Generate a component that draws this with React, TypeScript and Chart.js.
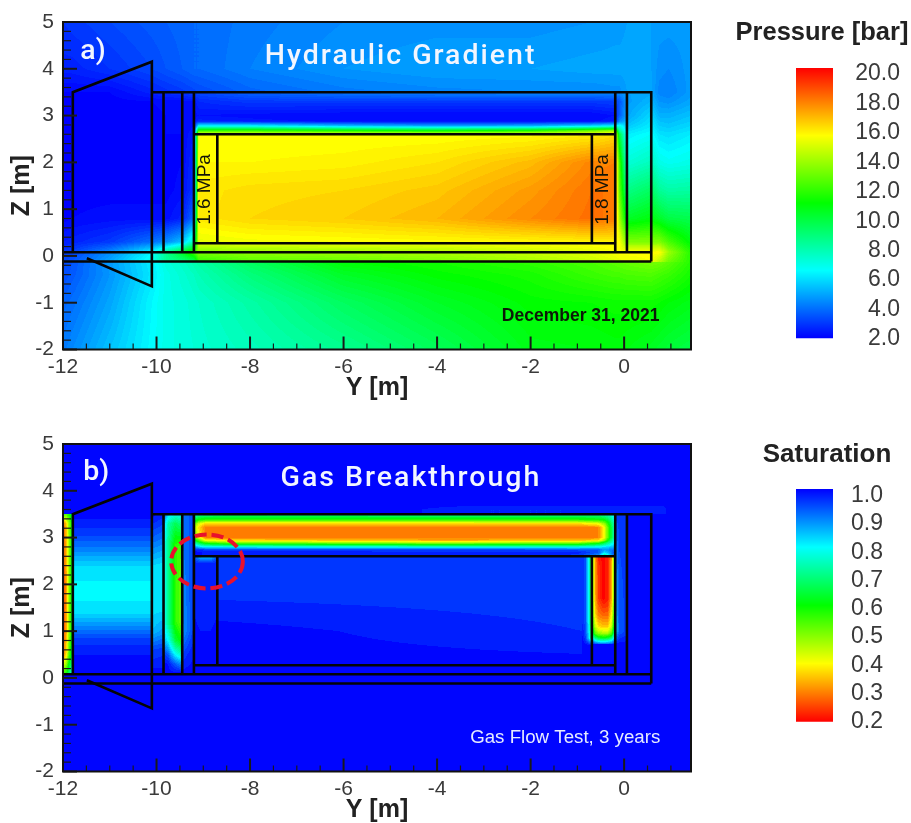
import React, { useEffect, useRef } from "react";
import { Chart, registerables } from "chart.js";

Chart.register(...registerables);

// ---- axes ----
const yMajorTicks = [-12, -10, -8, -6, -4, -2, 0];
const zMajorTicks = [-2, -1, 0, 1, 2, 3, 4, 5];
const pressureTicks = [2, 4, 6, 8, 10, 12, 14, 16, 18, 20];
const saturationTicks = [0.2, 0.3, 0.4, 0.5, 0.6, 0.7, 0.8, 0.9, 1.0];
const pressureRange = [2.0, 20.4];
const saturationRange = [0.2, 1.024];
const rainbow = [
  [255, 0, 0],
  [255, 255, 0],
  [0, 255, 0],
  [0, 255, 255],
  [0, 0, 255],
];

// ---- structure outline (Y, Z in metres) ----
const outlineSegments = [
  [[-11.79, 0.08], [-11.79, 3.5], [-10.1, 4.15], [-10.1, -0.65], [-11.49, -0.05]],
  [[-10.1, 3.5], [0.58, 3.5], [0.58, -0.12]],
  [[-12, 0.08], [0.58, 0.08]],
  [[-12, -0.12], [0.58, -0.12]],
  [[-9.85, 3.5], [-9.85, 0.08]],
  [[-9.45, 3.5], [-9.45, 0.08]],
  [[-9.2, 3.5], [-9.2, 0.08]],
  [[-0.19, 3.5], [-0.19, 0.08]],
  [[0.06, 3.5], [0.06, 0.08]],
  [[-9.2, 2.6], [-0.19, 2.6]],
  [[-9.2, 0.27], [-0.19, 0.27]],
  [[-8.7, 2.6], [-8.7, 0.27]],
  [[-0.69, 2.6], [-0.69, 0.27]],
];

// ---- pressure field, panel a ----
const pressureY = [-12, -11.8, -11, -10.1, -9.8, -9.45, -9.2, -9.1, -8, -6, -4, -2, -0.7, -0.2, -0.1, 0.06, 0.58, 0.75, 0.95, 1.43];
const pressureZ = [5, 4, 3.5, 3.3, 3, 2.88, 2.78, 2.68, 2.6, 2, 1.4, 0.8, 0.3, 0.08, -0.12, -0.14, -0.4, -1, -2];
const pressureValues = [
  [2.9, 3.0, 3.3, 3.6, 3.7, 3.8, 3.9, 3.9, 4.2, 4.5, 4.6, 4.6, 4.7, 4.8, 4.8, 4.9, 4.9, 4.8, 4.8, 4.8],
  [2.6, 2.6, 2.9, 3.3, 3.5, 3.7, 3.9, 3.9, 4.3, 4.7, 4.9, 4.9, 5.0, 5.0, 5.0, 5.0, 4.9, 4.6, 4.5, 4.8],
  [2.1, 2.1, 2.1, 2.6, 2.8, 3.0, 3.2, 3.3, 3.8, 4.2, 4.4, 4.5, 4.5, 4.6, 4.6, 4.9, 5.0, 4.4, 4.3, 4.8],
  [2, 2, 2, 2.1, 2.2, 2.2, 2.3, 2.7, 3.0, 3.0, 3.0, 3.0, 3.0, 3.1, 3.5, 4.8, 5.3, 4.7, 4.6, 5.0],
  [2, 2, 2, 2, 2.1, 2.1, 2.2, 2.3, 2.2, 2.1, 2.1, 2.1, 2.1, 2.3, 3.7, 5.0, 5.9, 5.2, 5.2, 5.5],
  [2, 2, 2, 2, 2.1, 2.1, 2.2, 2.6, 2.4, 2.2, 2.2, 2.2, 2.2, 2.5, 4.5, 5.3, 6.1, 5.5, 5.4, 5.7],
  [2, 2, 2, 2, 2.1, 2.1, 2.3, 6.5, 6.5, 5.5, 5.0, 5.2, 6.0, 6.5, 7.0, 5.6, 6.3, 5.7, 5.6, 5.9],
  [2, 2, 2, 2, 2.1, 2.1, 2.4, 12, 12, 11.5, 11, 11.5, 13, 13.8, 8.5, 6.0, 6.5, 5.9, 5.8, 6.1],
  [2, 2, 2, 2, 2.1, 2.1, 2.5, 15.7, 15.7, 15.7, 15.7, 15.8, 16, 16.4, 10, 6.3, 6.7, 6.1, 6.0, 6.3],
  [2, 2, 2, 2, 2, 2.1, 2.8, 15.9, 15.9, 16, 16.3, 17, 18, 18.1, 12.4, 7.3, 7.8, 7.0, 6.8, 7.0],
  [2, 2, 2, 2, 2, 2.2, 3.0, 16.2, 16.4, 16.5, 16.8, 17.6, 18.3, 18.3, 13, 8.8, 9.5, 8.5, 8.2, 8.3],
  [2, 2.1, 2.2, 2.2, 2.2, 2.6, 4.0, 16.2, 16.5, 16.7, 17.1, 17.9, 18.4, 18.2, 14.2, 10.5, 11, 10.5, 10, 9.8],
  [2.5, 2.6, 3, 4, 4.5, 5.5, 8, 15.4, 15.6, 15.7, 15.8, 15.9, 16, 16, 15.8, 13.5, 13.5, 13.5, 12.5, 11],
  [3.0, 3.2, 4.5, 6.5, 8.5, 10.5, 12.5, 13.5, 13.8, 14, 14.3, 14.8, 15.3, 15.7, 15.8, 15.8, 15.8, 15.9, 14, 11.8],
  [3.2, 3.5, 5, 7, 8.5, 9, 9.5, 12, 12.8, 13, 13.5, 14.2, 14.8, 15.2, 15.4, 15.5, 15.7, 14.5, 13.2, 11.8],
  [3.2, 3.5, 4.8, 6.3, 7.2, 7.6, 8, 8.2, 9.5, 11.1, 11.5, 12, 12.5, 12.8, 12.9, 13, 13.3, 13.2, 12.8, 11.8],
  [3.3, 3.6, 4.7, 6.2, 7, 7.4, 7.7, 7.9, 9, 10.5, 11.2, 11.6, 12.2, 12.4, 12.4, 12.5, 12.6, 12.4, 12.2, 11.5],
  [3.8, 4, 5, 6.5, 7, 7.2, 7.4, 7.5, 8.2, 9.5, 10.5, 11.2, 11.3, 11.4, 11.4, 11.4, 11.4, 11.3, 11.1, 10.8],
  [4.2, 4.5, 5.5, 6.6, 7, 7.2, 7.3, 7.4, 7.8, 8.6, 9.6, 10.8, 10.9, 11, 11, 10.9, 10.6, 10.4, 10.2, 9.9],
];

// ---- saturation field, panel b: local tables over a fully saturated background ----
const saturationBackground = 1.02;
const leftEdge = {
  ys: [-12, -11.93, -11.87, -11.79],
  zs: [3.5, 3.3, 2, 1, 0.5, 0.1],
  values: [
    [0.55, 0.55, 0.6, 0.7],
    [0.27, 0.36, 0.5, 0.65],
    [0.24, 0.33, 0.5, 0.64],
    [0.25, 0.33, 0.5, 0.66],
    [0.29, 0.38, 0.55, 0.7],
    [0.55, 0.6, 0.7, 0.8],
  ],
};
const nozzle = {
  ys: [-11.79, -10.1],
  zs: [3.5, 3.1, 2.8, 2.4, 1.9, 1.4, 1.1, 0.8, 0.5, 0.1],
  values: [
    [1.02, 1.02],
    [0.98, 0.98],
    [0.93, 0.93],
    [0.85, 0.85],
    [0.82, 0.82],
    [0.84, 0.84],
    [0.91, 0.91],
    [0.98, 0.98],
    [1.01, 1.01],
    [1.02, 1.02],
  ],
};
const stripOne = {
  ys: [-10.1, -9.85],
  zs: [3.5, 3, 2.4, 1.5, 1, 0.6, 0.1],
  values: [[1.02, 1.0], [0.95, 0.93], [0.85, 0.84], [0.84, 0.84], [0.87, 0.9], [0.97, 0.98], [1.02, 1.02]],
};
const stripTwo = {
  ys: [-9.85, -9.75, -9.6, -9.45],
  zs: [3.5, 3.3, 2.8, 2, 1.2, 0.8, 0.5, 0.3, 0.1],
  values: [
    [0.96, 0.85, 0.8, 0.82],
    [0.88, 0.75, 0.68, 0.72],
    [0.82, 0.72, 0.58, 0.55],
    [0.82, 0.72, 0.58, 0.52],
    [0.82, 0.72, 0.58, 0.52],
    [0.88, 0.82, 0.66, 0.6],
    [0.98, 0.95, 0.82, 0.76],
    [1.02, 1.01, 0.95, 0.9],
    [1.02, 1.02, 1.02, 1.02],
  ],
};
const stripThree = {
  ys: [-9.45, -9.35, -9.2],
  zs: [3.5, 1, 0.5, 0.1],
  values: [[0.94, 0.94, 0.98], [0.9, 0.93, 0.98], [0.97, 0.99, 1.01], [1.02, 1.02, 1.02]],
};
const topBand = {
  ys: [-9.2, -9.1, -8.95, -8.5, -4, -1, -0.55, -0.42, -0.3, -0.19],
  zs: [3.5, 3.38, 3.3, 3.22, 3.0, 2.94, 2.88, 2.8, 2.74, 2.68, 2.6],
  values: [
    [0.8, 0.76, 0.74, 0.72, 0.74, 0.74, 0.74, 0.76, 0.78, 0.86],
    [0.68, 0.6, 0.58, 0.58, 0.58, 0.58, 0.6, 0.62, 0.7, 0.82],
    [0.56, 0.44, 0.37, 0.37, 0.37, 0.38, 0.42, 0.5, 0.65, 0.8],
    [0.5, 0.38, 0.3, 0.3, 0.3, 0.3, 0.31, 0.42, 0.62, 0.8],
    [0.54, 0.42, 0.31, 0.3, 0.3, 0.3, 0.31, 0.42, 0.62, 0.8],
    [0.66, 0.55, 0.42, 0.38, 0.34, 0.35, 0.38, 0.5, 0.68, 0.82],
    [0.78, 0.68, 0.6, 0.55, 0.5, 0.52, 0.6, 0.68, 0.76, 0.85],
    [0.92, 0.86, 0.82, 0.82, 0.8, 0.8, 0.82, 0.84, 0.86, 0.9],
    [1.0, 0.99, 0.98, 0.98, 0.97, 0.96, 0.95, 0.9, 0.92, 0.95],
    [1.02, 1.02, 1, 1, 1, 1, 0.95, 0.84, 0.9, 0.98],
    [1.02, 1.02, 1, 1, 1, 0.98, 0.9, 0.7, 0.85, 0.98],
  ],
};
const innerHaze = {
  ys: [-8.7, -0.9],
  zs: [2.6, 2, 1, 0.27],
  values: [[0.975, 0.975], [0.975, 0.975], [1.02, 0.99], [1.02, 1.02]],
};
const leftCell = {
  ys: [-9.2, -9.05, -8.85, -8.7],
  zs: [2.6, 2.53, 2.45, 0.27],
  values: [[0.95, 0.84, 0.84, 0.95], [0.98, 0.92, 0.92, 0.98], [1, 0.99, 0.99, 1], [1.02, 1.02, 1.02, 1.02]],
};
const columnFringe = {
  ys: [-0.9, -0.83, -0.76, -0.69],
  zs: [2.6, 1.2, 0.85, 0.7],
  values: [[0.98, 0.96, 0.82, 0.6], [0.99, 0.96, 0.82, 0.6], [1.02, 0.98, 0.86, 0.7], [1.02, 1.02, 1.02, 1.0]],
};
const gasColumn = {
  ys: [-0.69, -0.62, -0.55, -0.45, -0.35, -0.27, -0.19],
  zs: [2.6, 2.4, 1.7, 1.35, 1.1, 0.95, 0.85, 0.72],
  values: [
    [0.55, 0.32, 0.22, 0.2, 0.22, 0.32, 0.6],
    [0.55, 0.34, 0.24, 0.2, 0.22, 0.34, 0.62],
    [0.55, 0.34, 0.25, 0.2, 0.22, 0.34, 0.62],
    [0.58, 0.38, 0.3, 0.28, 0.28, 0.4, 0.65],
    [0.62, 0.45, 0.38, 0.36, 0.36, 0.45, 0.7],
    [0.72, 0.55, 0.5, 0.48, 0.48, 0.55, 0.8],
    [0.85, 0.72, 0.66, 0.64, 0.66, 0.72, 0.9],
    [1.0, 0.98, 0.96, 0.95, 0.96, 0.98, 1.02],
  ],
};
const rightFringe = {
  ys: [-0.19, -0.1, 0.06],
  zs: [3.5, 2.7, 1, 0.72],
  values: [[0.98, 0.98, 0.98], [0.9, 0.97, 0.98], [0.85, 0.95, 0.98], [1.02, 1.02, 1.02]],
};
const topGlow = {
  ys: [-5, -3, 0.8, 0.95],
  zs: [3.72, 3.6, 3.5],
  values: [[1.02, 1.02, 1.02, 1.02], [1.02, 0.99, 0.99, 1.02], [1.02, 0.99, 0.99, 1.02]],
};

// ---- annotations ----
const panelAText = [
  { text: "a)", y: -11.36, z: 4.36, font: "500 28.5px Roboto", color: "#f2f6ff", spacing: 0 },
  { text: "Hydraulic Gradient", y: -4.78, z: 4.25, font: "500 28.5px Roboto", color: "#f2f6ff", spacing: 2 },
  { text: "December 31, 2021", y: -0.93, z: -1.29, font: "bold 17.5px 'Liberation Sans'", color: "#0c1a08", spacing: 0 },
  { text: "1.6 MPa", y: -8.96, z: 1.42, font: "19px 'Liberation Sans'", color: "#141408", spacing: 0, rotate: true },
  { text: "1.8 MPa", y: -0.45, z: 1.42, font: "19px 'Liberation Sans'", color: "#141408", spacing: 0, rotate: true },
];
const panelBText = [
  { text: "b)", y: -11.29, z: 4.38, font: "500 28.5px Roboto", color: "#f2f6ff", spacing: 0 },
  { text: "Gas Breakthrough", y: -4.56, z: 4.25, font: "500 28.5px Roboto", color: "#f2f6ff", spacing: 2 },
  { text: "Gas Flow Test, 3 years", y: -1.26, z: -1.28, font: "18.7px 'Liberation Sans'", color: "#e6ecff", spacing: 0 },
];
const breakthroughMark = { y: -8.92, z: 2.49, ry: 0.766, rz: 0.577 };

const FONT = "'Liberation Sans'";
const TEXT = "#3a3a3a";

function sample(p: any, y: number, z: number) {
  const { ys, zs, values } = p;
  if (y < ys[0] || y > ys[ys.length - 1] || z > zs[0] || z < zs[zs.length - 1]) return null;
  let i = 0;
  while (i < ys.length - 2 && y > ys[i + 1]) i++;
  let j = 0;
  while (j < zs.length - 2 && z < zs[j + 1]) j++;
  const ty = (y - ys[i]) / (ys[i + 1] - ys[i]);
  const tz = (zs[j] - z) / (zs[j] - zs[j + 1]);
  const a = values[j][i] * (1 - ty) + values[j][i + 1] * ty;
  const b = values[j + 1][i] * (1 - ty) + values[j + 1][i + 1] * ty;
  return a * (1 - tz) + b * tz;
}

function colourFor(v: number, range: number[], reversed: boolean) {
  let t = (v - range[0]) / (range[1] - range[0]);
  t = Math.max(0, Math.min(1, t));
  if (!reversed) t = 1 - t;
  const s = t * 4;
  const k = Math.min(3, Math.floor(s));
  const f = s - k;
  return [0, 1, 2].map((c) => rainbow[k][c] * (1 - f) + rainbow[k + 1][c] * f);
}

const panelPlugin = {
  id: "panel",
  beforeDatasetsDraw(chart: any, _a: any, opts: any) {
    const { left, right, top, bottom } = chart.chartArea;
    const x = chart.scales.x;
    const y = chart.scales.y;
    const w = Math.round(right - left);
    const h = Math.round(bottom - top);
    const img = chart.ctx.createImageData(w, h);
    for (let py = 0; py < h; py++) {
      const z = y.getValueForPixel(top + py + 0.5);
      for (let px = 0; px < w; px++) {
        const yy = x.getValueForPixel(left + px + 0.5);
        let v = opts.background;
        for (const p of opts.patches) {
          const s = sample(p, yy, z);
          if (s !== null) v = s;
        }
        v = Math.round(v / opts.step) * opts.step;
        const c = colourFor(v, opts.range, opts.reversed);
        const o = (py * w + px) * 4;
        img.data[o] = c[0];
        img.data[o + 1] = c[1];
        img.data[o + 2] = c[2];
        img.data[o + 3] = 255;
      }
    }
    chart.ctx.putImageData(img, Math.round(left), Math.round(top));
  },
  afterDatasetsDraw(chart: any, _a: any, opts: any) {
    const c = chart.ctx;
    const { left, right, top, bottom } = chart.chartArea;
    const x = chart.scales.x;
    const y = chart.scales.y;
    c.save();
    // inward ticks
    c.strokeStyle = "#1a1a1a";
    for (let v = -12; v <= 1.43; v += 0.5) {
      const major = yMajorTicks.includes(v);
      const p = x.getPixelForValue(v);
      c.lineWidth = major ? 2 : 1.2;
      c.beginPath();
      c.moveTo(p, bottom);
      c.lineTo(p, bottom - (major ? 13 : 6));
      c.stroke();
    }
    for (let n = -10; n <= 25; n++) {
      const major = n % 5 === 0;
      const p = y.getPixelForValue(n / 5);
      c.lineWidth = major ? 2 : 1.2;
      c.beginPath();
      c.moveTo(left, p);
      c.lineTo(left + (major ? 14 : 8), p);
      c.stroke();
    }
    // frame
    c.strokeStyle = "#111";
    c.lineWidth = 2;
    c.strokeRect(left, top, right - left, bottom - top);
    // red mark
    if (opts.mark) {
      const m = opts.mark;
      c.strokeStyle = "#e8112d";
      c.lineWidth = 4;
      c.setLineDash([12, 5]);
      c.beginPath();
      c.ellipse(
        x.getPixelForValue(m.y),
        y.getPixelForValue(m.z),
        Math.abs(x.getPixelForValue(m.y + m.ry) - x.getPixelForValue(m.y)),
        Math.abs(y.getPixelForValue(m.z + m.rz) - y.getPixelForValue(m.z)),
        0, 0, Math.PI * 2
      );
      c.stroke();
      c.setLineDash([]);
    }
    // text
    c.textAlign = "center";
    c.textBaseline = "middle";
    for (const t of opts.texts) {
      c.save();
      c.font = t.font;
      c.fillStyle = t.color;
      c.letterSpacing = t.spacing + "px";
      c.translate(x.getPixelForValue(t.y), y.getPixelForValue(t.z));
      if (t.rotate) c.rotate(-Math.PI / 2);
      c.fillText(t.text, 0, 0);
      c.restore();
    }
    c.restore();
  },
};

const barTitlePlugin = {
  id: "barTitle",
  afterDraw(chart: any, _a: any, opts: any) {
    const c = chart.ctx;
    c.save();
    c.font = `bold ${opts.size}px ${FONT}`;
    c.fillStyle = "#222";
    c.textAlign = "center";
    c.textBaseline = "middle";
    c.fillText(opts.text, chart.width / 2, opts.y);
    c.restore();
  },
};

function makePanel(canvas: HTMLCanvasElement, plugin: any) {
  return new Chart(canvas, {
    type: "scatter",
    data: {
      datasets: outlineSegments.map((seg) => ({
        data: seg.map((p) => ({ x: p[0], y: p[1] })),
        showLine: true,
        borderColor: "#050505",
        borderWidth: 2.6,
        pointRadius: 0,
        fill: false,
      })),
    },
    plugins: [panelPlugin],
    options: {
      responsive: false,
      animation: false,
      events: [],
      layout: { autoPadding: false, padding: { left: 0, top: 22, right: 9, bottom: 0 } },
      plugins: { legend: { display: false }, tooltip: { enabled: false }, panel: plugin },
      scales: {
        x: {
          type: "linear",
          min: -12,
          max: 1.43,
          grid: { display: false, drawTicks: false },
          border: { display: false },
          afterBuildTicks: (s: any) => {
            s.ticks = yMajorTicks.map((value) => ({ value }));
          },
          afterFit: (s: any) => {
            s.height = 55.5;
          },
          ticks: {
            autoSkip: false,
            maxRotation: 0,
            padding: 5,
            color: TEXT,
            font: { family: FONT, size: 21 },
            callback: (v: any) => String(v),
          },
          title: {
            display: true,
            text: "Y [m]",
            color: "#222",
            font: { family: FONT, size: 25, weight: "bold" },
            padding: { top: 0, bottom: 2 },
          },
        },
        y: {
          type: "linear",
          min: -2,
          max: 5,
          grid: { display: false, drawTicks: false },
          border: { display: false },
          afterBuildTicks: (s: any) => {
            s.ticks = zMajorTicks.map((value) => ({ value }));
          },
          afterFit: (s: any) => {
            s.width = 63;
          },
          ticks: {
            autoSkip: false,
            padding: 9,
            color: TEXT,
            font: { family: FONT, size: 21 },
            callback: (v: any) => String(v),
          },
          title: {
            display: true,
            text: "Z [m]",
            color: "#222",
            font: { family: FONT, size: 25, weight: "bold" },
            padding: { top: 7, bottom: 0 },
          },
        },
      },
    } as any,
  });
}

function makeBar(canvas: HTMLCanvasElement, cfg: any) {
  return new Chart(canvas, {
    type: "bar",
    data: {
      labels: [""],
      datasets: [
        {
          data: [cfg.span],
          barPercentage: 1,
          categoryPercentage: 1,
          backgroundColor: (ctx: any) => {
            const { chart } = ctx;
            const sc = chart.scales.y;
            if (!chart.chartArea || !sc) return "#00f";
            const g = chart.ctx.createLinearGradient(0, sc.getPixelForValue(cfg.span[1]), 0, sc.getPixelForValue(cfg.span[0]));
            const list = cfg.reversed ? rainbow.slice().reverse() : rainbow;
            list.forEach((c: number[], i: number) => g.addColorStop(i / 4, `rgb(${c[0]},${c[1]},${c[2]})`));
            return g;
          },
        },
      ],
    },
    plugins: [barTitlePlugin],
    options: {
      responsive: false,
      animation: false,
      events: [],
      layout: { autoPadding: false, padding: cfg.padding },
      plugins: {
        legend: { display: false },
        tooltip: { enabled: false },
        barTitle: { text: cfg.title, size: cfg.titleSize, y: cfg.titleY },
      },
      scales: {
        x: { display: false },
        y: {
          position: "right",
          min: cfg.min,
          max: cfg.max,
          grid: { display: false, drawTicks: false },
          border: { display: false },
          afterBuildTicks: (s: any) => {
            s.ticks = cfg.ticks.map((value: number) => ({ value }));
          },
          afterFit: (s: any) => {
            s.width = cfg.axisWidth;
          },
          ticks: {
            autoSkip: false,
            padding: 10,
            crossAlign: "far",
            color: TEXT,
            font: { family: FONT, size: cfg.tickSize },
            callback: (v: any) => Number(v).toFixed(1),
          },
        },
      },
    } as any,
  });
}

const canvasStyle = (left: number, top: number): React.CSSProperties => ({
  position: "absolute",
  left,
  top,
  filter: "blur(0.7px)",
});

export default function App() {
  const a = useRef<HTMLCanvasElement>(null);
  const b = useRef<HTMLCanvasElement>(null);
  const pa = useRef<HTMLCanvasElement>(null);
  const pb = useRef<HTMLCanvasElement>(null);

  useEffect(() => {
    const charts = [
      makePanel(a.current!, {
        background: 2,
        step: 0.2,
        range: pressureRange,
        reversed: false,
        patches: [{ ys: pressureY, zs: pressureZ, values: pressureValues }],
        texts: panelAText,
      }),
      makePanel(b.current!, {
        background: saturationBackground,
        step: 0.02,
        range: saturationRange,
        reversed: true,
        patches: [leftEdge, nozzle, stripOne, stripTwo, stripThree, topGlow, innerHaze, leftCell, topBand, columnFringe, gasColumn, rightFringe],
        texts: panelBText,
        mark: breakthroughMark,
      }),
      makeBar(pa.current!, {
        span: [2.07, 20.41],
        min: 2,
        max: 20.41,
        ticks: pressureTicks,
        title: "Pressure [bar]",
        titleSize: 25.5,
        titleY: 23,
        padding: { left: 63, right: 11, top: 58, bottom: 31 },
        axisWidth: 67,
        tickSize: 23,
        reversed: false,
      }),
      makeBar(pb.current!, {
        span: [0.2, 1.024],
        min: 0.2,
        max: 1.024,
        ticks: saturationTicks,
        title: "Saturation",
        titleSize: 26,
        titleY: 25,
        padding: { left: 53, right: 28, top: 59, bottom: 38.3 },
        axisWidth: 50,
        tickSize: 23,
        reversed: true,
      }),
    ];
    return () => charts.forEach((c) => c.destroy());
  }, []);

  return (
    <div style={{ position: "fixed", left: 0, top: 0, width: 911, height: 823, overflow: "hidden", background: "#fff" }}>
      <canvas ref={a} width={700} height={405} style={canvasStyle(0, 0)} />
      <canvas ref={b} width={700} height={405} style={canvasStyle(0, 422)} />
      <canvas ref={pa} width={178} height={360} style={canvasStyle(733, 10)} />
      <canvas ref={pb} width={168} height={330} style={canvasStyle(743, 430)} />
    </div>
  );
}
